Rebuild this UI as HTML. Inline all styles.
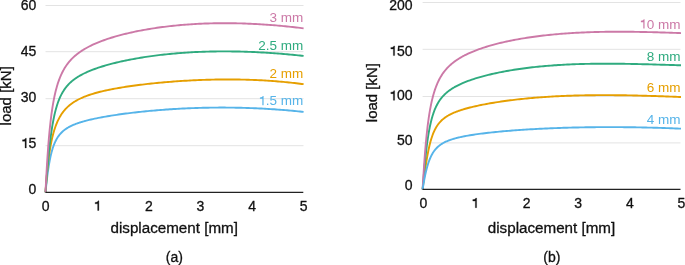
<!DOCTYPE html>
<html><head><meta charset="utf-8"><style>
html,body{margin:0;padding:0;background:#fff;}
body{width:685px;height:265px;overflow:hidden;}
svg{display:block;font-family:"Liberation Sans",sans-serif;will-change:transform;}
.one{fill-opacity:0;stroke-opacity:0;}
</style></head><body>
<svg width="685" height="265" viewBox="0 0 685 265">
<line x1="45.50" y1="5.50" x2="303.50" y2="5.50" stroke="#e3e3e3" stroke-width="1"/>
<line x1="45.50" y1="51.70" x2="303.50" y2="51.70" stroke="#e3e3e3" stroke-width="1"/>
<line x1="45.50" y1="98.70" x2="303.50" y2="98.70" stroke="#e3e3e3" stroke-width="1"/>
<line x1="45.50" y1="145.70" x2="303.50" y2="145.70" stroke="#e3e3e3" stroke-width="1"/>
<path d="M45.50,192.30 L45.67,190.67 L45.84,189.05 L46.01,187.45 L46.18,185.88 L46.35,184.33 L46.52,182.82 L46.69,181.33 L46.86,179.88 L47.03,178.47 L47.19,177.09 L47.36,175.74 L47.53,174.43 L47.70,173.16 L47.87,171.92 L48.04,170.71 L48.21,169.54 L48.38,168.40 L48.55,167.29 L48.72,166.22 L48.89,165.18 L49.06,164.16 L49.23,163.18 L49.40,162.23 L49.57,161.30 L49.74,160.41 L49.91,159.53 L50.08,158.69 L50.25,157.87 L50.42,157.07 L50.58,156.30 L50.75,155.55 L50.92,154.82 L51.09,154.11 L51.26,153.43 L51.43,152.76 L51.60,152.11 L51.77,151.48 L51.94,150.87 L52.11,150.28 L52.28,149.70 L52.45,149.14 L52.62,148.59 L52.79,148.06 L52.96,147.54 L53.13,147.04 L53.30,146.55 L53.47,146.07 L53.64,145.61 L53.81,145.15 L53.97,144.71 L54.14,144.28 L54.31,143.86 L54.48,143.46 L54.65,143.06 L54.82,142.67 L54.99,142.29 L55.16,141.92 L55.33,141.56 L55.50,141.21 L56.01,140.20 L56.52,139.26 L57.03,138.38 L57.53,137.56 L58.04,136.79 L58.55,136.06 L59.06,135.38 L59.57,134.73 L60.08,134.12 L60.58,133.55 L61.09,133.00 L61.60,132.48 L62.11,131.98 L62.62,131.51 L63.13,131.06 L63.64,130.64 L64.14,130.22 L64.65,129.83 L65.16,129.46 L65.67,129.09 L66.18,128.75 L66.69,128.41 L67.19,128.09 L67.70,127.78 L68.21,127.48 L68.72,127.19 L69.23,126.91 L69.74,126.64 L70.25,126.37 L70.75,126.12 L71.26,125.87 L71.77,125.63 L72.28,125.40 L72.79,125.17 L73.30,124.95 L73.81,124.73 L74.31,124.52 L74.82,124.32 L75.33,124.12 L75.84,123.92 L76.35,123.73 L76.86,123.55 L77.36,123.36 L77.87,123.19 L78.38,123.01 L78.89,122.84 L79.40,122.67 L79.91,122.51 L80.42,122.34 L80.92,122.18 L81.43,122.03 L81.94,121.88 L82.45,121.72 L82.96,121.58 L83.47,121.43 L83.97,121.29 L84.48,121.15 L84.99,121.01 L85.50,120.87 L87.33,120.39 L89.17,119.94 L91.00,119.51 L92.83,119.09 L94.66,118.69 L96.50,118.31 L98.33,117.94 L100.16,117.59 L101.99,117.24 L103.83,116.91 L105.66,116.59 L107.49,116.27 L109.33,115.97 L111.16,115.67 L112.99,115.38 L114.82,115.10 L116.66,114.83 L118.49,114.56 L120.32,114.30 L122.16,114.05 L123.99,113.80 L125.82,113.56 L127.65,113.33 L129.49,113.10 L131.32,112.87 L133.15,112.65 L134.98,112.44 L136.82,112.23 L138.65,112.03 L140.48,111.83 L142.32,111.64 L144.15,111.45 L145.98,111.27 L147.81,111.09 L149.65,110.92 L151.48,110.75 L153.31,110.59 L155.15,110.43 L156.98,110.27 L158.81,110.12 L160.64,109.97 L162.48,109.83 L164.31,109.69 L166.14,109.56 L167.97,109.43 L169.81,109.31 L171.64,109.19 L173.47,109.07 L175.31,108.96 L177.14,108.85 L178.97,108.75 L180.80,108.65 L182.64,108.56 L184.47,108.47 L186.30,108.38 L188.14,108.30 L189.97,108.23 L191.80,108.15 L193.63,108.08 L195.47,108.02 L197.30,107.96 L199.13,107.90 L200.96,107.85 L202.80,107.81 L204.63,107.76 L206.46,107.72 L208.30,107.69 L210.13,107.66 L211.96,107.63 L213.79,107.61 L215.63,107.59 L217.46,107.58 L219.29,107.57 L221.13,107.57 L222.96,107.57 L224.79,107.57 L226.62,107.58 L228.46,107.59 L230.29,107.61 L232.12,107.63 L233.95,107.65 L235.79,107.68 L237.62,107.72 L239.45,107.76 L241.29,107.80 L243.12,107.85 L244.95,107.90 L246.78,107.95 L248.62,108.01 L250.45,108.08 L252.28,108.15 L254.12,108.22 L255.95,108.30 L257.78,108.38 L259.61,108.47 L261.45,108.56 L263.28,108.65 L265.11,108.75 L266.94,108.86 L268.78,108.97 L270.61,109.08 L272.44,109.20 L274.28,109.32 L276.11,109.45 L277.94,109.58 L279.77,109.72 L281.61,109.86 L283.44,110.00 L285.27,110.15 L287.11,110.31 L288.94,110.47 L290.77,110.63 L292.60,110.80 L294.44,110.97 L296.27,111.15 L298.10,111.33 L299.93,111.52 L301.77,111.71 L303.60,111.90" fill="none" stroke="#56b4e9" stroke-width="1.90" stroke-linejoin="round" stroke-linecap="butt"/>
<path d="M45.50,192.30 L45.67,189.89 L45.84,187.56 L46.01,185.30 L46.18,183.12 L46.35,181.01 L46.52,178.97 L46.69,177.01 L46.86,175.11 L47.03,173.27 L47.19,171.50 L47.36,169.79 L47.53,168.13 L47.70,166.53 L47.87,164.98 L48.04,163.48 L48.21,162.03 L48.38,160.63 L48.55,159.27 L48.72,157.95 L48.89,156.67 L49.06,155.43 L49.23,154.23 L49.40,153.07 L49.57,151.94 L49.74,150.84 L49.91,149.78 L50.08,148.74 L50.25,147.74 L50.42,146.76 L50.58,145.81 L50.75,144.88 L50.92,143.98 L51.09,143.11 L51.26,142.25 L51.43,141.42 L51.60,140.61 L51.77,139.83 L51.94,139.06 L52.11,138.31 L52.28,137.58 L52.45,136.86 L52.62,136.17 L52.79,135.49 L52.96,134.83 L53.13,134.18 L53.30,133.55 L53.47,132.93 L53.64,132.32 L53.81,131.73 L53.97,131.16 L54.14,130.59 L54.31,130.04 L54.48,129.50 L54.65,128.97 L54.82,128.45 L54.99,127.95 L55.16,127.45 L55.33,126.96 L55.50,126.49 L56.01,125.11 L56.52,123.82 L57.03,122.60 L57.53,121.45 L58.04,120.35 L58.55,119.32 L59.06,118.33 L59.57,117.39 L60.08,116.50 L60.58,115.65 L61.09,114.84 L61.60,114.07 L62.11,113.33 L62.62,112.62 L63.13,111.94 L63.64,111.28 L64.14,110.66 L64.65,110.06 L65.16,109.48 L65.67,108.92 L66.18,108.38 L66.69,107.86 L67.19,107.36 L67.70,106.88 L68.21,106.41 L68.72,105.96 L69.23,105.53 L69.74,105.10 L70.25,104.69 L70.75,104.29 L71.26,103.91 L71.77,103.54 L72.28,103.17 L72.79,102.82 L73.30,102.48 L73.81,102.14 L74.31,101.82 L74.82,101.50 L75.33,101.19 L75.84,100.89 L76.35,100.60 L76.86,100.31 L77.36,100.03 L77.87,99.76 L78.38,99.49 L78.89,99.23 L79.40,98.98 L79.91,98.73 L80.42,98.49 L80.92,98.25 L81.43,98.02 L81.94,97.79 L82.45,97.57 L82.96,97.35 L83.47,97.13 L83.97,96.92 L84.48,96.72 L84.99,96.51 L85.50,96.32 L87.33,95.63 L89.17,94.98 L91.00,94.38 L92.83,93.80 L94.66,93.26 L96.50,92.74 L98.33,92.25 L100.16,91.78 L101.99,91.34 L103.83,90.91 L105.66,90.49 L107.49,90.10 L109.33,89.72 L111.16,89.35 L112.99,88.99 L114.82,88.65 L116.66,88.32 L118.49,88.00 L120.32,87.69 L122.16,87.39 L123.99,87.09 L125.82,86.81 L127.65,86.53 L129.49,86.26 L131.32,86.00 L133.15,85.75 L134.98,85.50 L136.82,85.26 L138.65,85.02 L140.48,84.79 L142.32,84.57 L144.15,84.35 L145.98,84.14 L147.81,83.93 L149.65,83.73 L151.48,83.53 L153.31,83.34 L155.15,83.16 L156.98,82.98 L158.81,82.80 L160.64,82.63 L162.48,82.46 L164.31,82.30 L166.14,82.14 L167.97,81.99 L169.81,81.84 L171.64,81.69 L173.47,81.55 L175.31,81.42 L177.14,81.29 L178.97,81.16 L180.80,81.04 L182.64,80.92 L184.47,80.81 L186.30,80.70 L188.14,80.59 L189.97,80.49 L191.80,80.40 L193.63,80.31 L195.47,80.22 L197.30,80.14 L199.13,80.06 L200.96,79.99 L202.80,79.92 L204.63,79.86 L206.46,79.80 L208.30,79.74 L210.13,79.69 L211.96,79.65 L213.79,79.61 L215.63,79.57 L217.46,79.54 L219.29,79.51 L221.13,79.49 L222.96,79.47 L224.79,79.46 L226.62,79.45 L228.46,79.45 L230.29,79.46 L232.12,79.46 L233.95,79.48 L235.79,79.49 L237.62,79.52 L239.45,79.55 L241.29,79.58 L243.12,79.62 L244.95,79.66 L246.78,79.71 L248.62,79.77 L250.45,79.83 L252.28,79.90 L254.12,79.97 L255.95,80.05 L257.78,80.13 L259.61,80.22 L261.45,80.31 L263.28,80.41 L265.11,80.52 L266.94,80.63 L268.78,80.75 L270.61,80.87 L272.44,81.00 L274.28,81.14 L276.11,81.28 L277.94,81.43 L279.77,81.58 L281.61,81.74 L283.44,81.91 L285.27,82.09 L287.11,82.26 L288.94,82.45 L290.77,82.64 L292.60,82.84 L294.44,83.05 L296.27,83.26 L298.10,83.48 L299.93,83.71 L301.77,83.94 L303.60,84.18" fill="none" stroke="#e69f00" stroke-width="1.90" stroke-linejoin="round" stroke-linecap="butt"/>
<path d="M45.50,192.30 L45.67,190.07 L45.84,187.85 L46.01,185.65 L46.18,183.46 L46.35,181.29 L46.52,179.15 L46.69,177.03 L46.86,174.95 L47.03,172.89 L47.19,170.86 L47.36,168.87 L47.53,166.91 L47.70,164.99 L47.87,163.10 L48.04,161.24 L48.21,159.43 L48.38,157.65 L48.55,155.91 L48.72,154.20 L48.89,152.53 L49.06,150.90 L49.23,149.30 L49.40,147.74 L49.57,146.22 L49.74,144.73 L49.91,143.27 L50.08,141.85 L50.25,140.46 L50.42,139.11 L50.58,137.79 L50.75,136.50 L50.92,135.24 L51.09,134.01 L51.26,132.81 L51.43,131.64 L51.60,130.50 L51.77,129.39 L51.94,128.30 L52.11,127.24 L52.28,126.21 L52.45,125.20 L52.62,124.21 L52.79,123.25 L52.96,122.31 L53.13,121.40 L53.30,120.51 L53.47,119.63 L53.64,118.78 L53.81,117.95 L53.97,117.14 L54.14,116.35 L54.31,115.57 L54.48,114.81 L54.65,114.08 L54.82,113.35 L54.99,112.65 L55.16,111.96 L55.33,111.29 L55.50,110.63 L56.01,108.74 L56.52,106.97 L57.03,105.31 L57.53,103.75 L58.04,102.29 L58.55,100.92 L59.06,99.62 L59.57,98.40 L60.08,97.24 L60.58,96.14 L61.09,95.11 L61.60,94.12 L62.11,93.19 L62.62,92.30 L63.13,91.45 L63.64,90.64 L64.14,89.86 L64.65,89.13 L65.16,88.42 L65.67,87.74 L66.18,87.09 L66.69,86.46 L67.19,85.86 L67.70,85.28 L68.21,84.72 L68.72,84.19 L69.23,83.67 L69.74,83.17 L70.25,82.68 L70.75,82.21 L71.26,81.76 L71.77,81.31 L72.28,80.89 L72.79,80.47 L73.30,80.07 L73.81,79.67 L74.31,79.29 L74.82,78.92 L75.33,78.56 L75.84,78.20 L76.35,77.86 L76.86,77.52 L77.36,77.19 L77.87,76.87 L78.38,76.56 L78.89,76.25 L79.40,75.95 L79.91,75.66 L80.42,75.37 L80.92,75.09 L81.43,74.81 L81.94,74.54 L82.45,74.27 L82.96,74.01 L83.47,73.75 L83.97,73.50 L84.48,73.25 L84.99,73.01 L85.50,72.77 L87.33,71.93 L89.17,71.14 L91.00,70.39 L92.83,69.68 L94.66,69.00 L96.50,68.34 L98.33,67.72 L100.16,67.11 L101.99,66.53 L103.83,65.98 L105.66,65.44 L107.49,64.91 L109.33,64.41 L111.16,63.92 L112.99,63.45 L114.82,62.99 L116.66,62.54 L118.49,62.11 L120.32,61.69 L122.16,61.28 L123.99,60.88 L125.82,60.49 L127.65,60.12 L129.49,59.76 L131.32,59.40 L133.15,59.06 L134.98,58.72 L136.82,58.40 L138.65,58.08 L140.48,57.77 L142.32,57.47 L144.15,57.18 L145.98,56.90 L147.81,56.63 L149.65,56.36 L151.48,56.10 L153.31,55.85 L155.15,55.61 L156.98,55.38 L158.81,55.15 L160.64,54.93 L162.48,54.72 L164.31,54.52 L166.14,54.32 L167.97,54.13 L169.81,53.94 L171.64,53.77 L173.47,53.60 L175.31,53.44 L177.14,53.28 L178.97,53.13 L180.80,52.99 L182.64,52.85 L184.47,52.72 L186.30,52.60 L188.14,52.48 L189.97,52.37 L191.80,52.26 L193.63,52.16 L195.47,52.07 L197.30,51.98 L199.13,51.90 L200.96,51.83 L202.80,51.76 L204.63,51.70 L206.46,51.64 L208.30,51.59 L210.13,51.54 L211.96,51.50 L213.79,51.47 L215.63,51.44 L217.46,51.42 L219.29,51.40 L221.13,51.39 L222.96,51.38 L224.79,51.38 L226.62,51.38 L228.46,51.39 L230.29,51.41 L232.12,51.43 L233.95,51.45 L235.79,51.48 L237.62,51.52 L239.45,51.56 L241.29,51.61 L243.12,51.66 L244.95,51.71 L246.78,51.77 L248.62,51.84 L250.45,51.91 L252.28,51.98 L254.12,52.06 L255.95,52.15 L257.78,52.24 L259.61,52.33 L261.45,52.43 L263.28,52.54 L265.11,52.64 L266.94,52.76 L268.78,52.87 L270.61,53.00 L272.44,53.12 L274.28,53.25 L276.11,53.39 L277.94,53.53 L279.77,53.67 L281.61,53.82 L283.44,53.97 L285.27,54.13 L287.11,54.29 L288.94,54.45 L290.77,54.62 L292.60,54.80 L294.44,54.97 L296.27,55.15 L298.10,55.34 L299.93,55.53 L301.77,55.72 L303.60,55.92" fill="none" stroke="#2fab7f" stroke-width="1.90" stroke-linejoin="round" stroke-linecap="butt"/>
<path d="M45.50,192.30 L45.67,188.87 L45.84,185.50 L46.01,182.21 L46.18,178.98 L46.35,175.84 L46.52,172.78 L46.69,169.81 L46.86,166.92 L47.03,164.11 L47.19,161.39 L47.36,158.75 L47.53,156.18 L47.70,153.70 L47.87,151.28 L48.04,148.95 L48.21,146.68 L48.38,144.49 L48.55,142.36 L48.72,140.29 L48.89,138.29 L49.06,136.35 L49.23,134.47 L49.40,132.64 L49.57,130.87 L49.74,129.16 L49.91,127.49 L50.08,125.87 L50.25,124.30 L50.42,122.78 L50.58,121.29 L50.75,119.86 L50.92,118.46 L51.09,117.10 L51.26,115.78 L51.43,114.49 L51.60,113.24 L51.77,112.03 L51.94,110.84 L52.11,109.69 L52.28,108.57 L52.45,107.48 L52.62,106.41 L52.79,105.38 L52.96,104.37 L53.13,103.38 L53.30,102.42 L53.47,101.48 L53.64,100.57 L53.81,99.68 L53.97,98.81 L54.14,97.96 L54.31,97.13 L54.48,96.32 L54.65,95.53 L54.82,94.75 L54.99,94.00 L55.16,93.26 L55.33,92.53 L55.50,91.83 L56.01,89.79 L56.52,87.89 L57.03,86.10 L57.53,84.41 L58.04,82.82 L58.55,81.32 L59.06,79.89 L59.57,78.55 L60.08,77.27 L60.58,76.05 L61.09,74.89 L61.60,73.79 L62.11,72.73 L62.62,71.73 L63.13,70.76 L63.64,69.84 L64.14,68.95 L64.65,68.10 L65.16,67.29 L65.67,66.50 L66.18,65.74 L66.69,65.01 L67.19,64.31 L67.70,63.63 L68.21,62.97 L68.72,62.34 L69.23,61.72 L69.74,61.12 L70.25,60.55 L70.75,59.98 L71.26,59.44 L71.77,58.91 L72.28,58.40 L72.79,57.90 L73.30,57.41 L73.81,56.93 L74.31,56.47 L74.82,56.02 L75.33,55.58 L75.84,55.15 L76.35,54.73 L76.86,54.32 L77.36,53.92 L77.87,53.53 L78.38,53.14 L78.89,52.77 L79.40,52.40 L79.91,52.04 L80.42,51.69 L80.92,51.34 L81.43,51.00 L81.94,50.67 L82.45,50.34 L82.96,50.02 L83.47,49.71 L83.97,49.40 L84.48,49.09 L84.99,48.79 L85.50,48.50 L87.33,47.48 L89.17,46.51 L91.00,45.59 L92.83,44.72 L94.66,43.89 L96.50,43.10 L98.33,42.34 L100.16,41.61 L101.99,40.91 L103.83,40.24 L105.66,39.59 L107.49,38.97 L109.33,38.36 L111.16,37.78 L112.99,37.22 L114.82,36.67 L116.66,36.15 L118.49,35.63 L120.32,35.14 L122.16,34.66 L123.99,34.19 L125.82,33.74 L127.65,33.30 L129.49,32.88 L131.32,32.46 L133.15,32.06 L134.98,31.67 L136.82,31.30 L138.65,30.93 L140.48,30.57 L142.32,30.23 L144.15,29.89 L145.98,29.57 L147.81,29.25 L149.65,28.95 L151.48,28.65 L153.31,28.36 L155.15,28.08 L156.98,27.81 L158.81,27.55 L160.64,27.30 L162.48,27.06 L164.31,26.82 L166.14,26.60 L167.97,26.38 L169.81,26.17 L171.64,25.96 L173.47,25.77 L175.31,25.58 L177.14,25.40 L178.97,25.23 L180.80,25.07 L182.64,24.91 L184.47,24.76 L186.30,24.62 L188.14,24.48 L189.97,24.35 L191.80,24.23 L193.63,24.12 L195.47,24.01 L197.30,23.91 L199.13,23.81 L200.96,23.73 L202.80,23.65 L204.63,23.57 L206.46,23.51 L208.30,23.45 L210.13,23.39 L211.96,23.34 L213.79,23.30 L215.63,23.27 L217.46,23.24 L219.29,23.22 L221.13,23.20 L222.96,23.19 L224.79,23.19 L226.62,23.19 L228.46,23.20 L230.29,23.21 L232.12,23.23 L233.95,23.26 L235.79,23.29 L237.62,23.33 L239.45,23.37 L241.29,23.42 L243.12,23.48 L244.95,23.54 L246.78,23.60 L248.62,23.68 L250.45,23.75 L252.28,23.84 L254.12,23.93 L255.95,24.02 L257.78,24.12 L259.61,24.23 L261.45,24.34 L263.28,24.45 L265.11,24.58 L266.94,24.70 L268.78,24.84 L270.61,24.97 L272.44,25.12 L274.28,25.26 L276.11,25.42 L277.94,25.58 L279.77,25.74 L281.61,25.91 L283.44,26.08 L285.27,26.26 L287.11,26.45 L288.94,26.63 L290.77,26.83 L292.60,27.03 L294.44,27.23 L296.27,27.44 L298.10,27.65 L299.93,27.87 L301.77,28.09 L303.60,28.32" fill="none" stroke="#cc79a7" stroke-width="1.90" stroke-linejoin="round" stroke-linecap="butt"/>

<line x1="45.50" y1="192.3" x2="303.30" y2="192.3" stroke="#222222" stroke-width="1.2"/>
<text x="36.40" y="9.80" font-size="14" text-anchor="end" fill="#111111" stroke="#111111" stroke-width="0.3">60</text>

<text x="36.40" y="56.00" font-size="14" text-anchor="end" fill="#111111" stroke="#111111" stroke-width="0.3">45</text>

<text x="36.40" y="102.00" font-size="14" text-anchor="end" fill="#111111" stroke="#111111" stroke-width="0.3">30</text>

<text x="36.40" y="147.90" font-size="14" text-anchor="end" fill="#111111" stroke="#111111" stroke-width="0.3"><tspan class="one">1</tspan>5</text>

<text x="36.40" y="194.00" font-size="14" text-anchor="end" fill="#111111" stroke="#111111" stroke-width="0.3">0</text>

<text x="45.70" y="210.50" font-size="14" text-anchor="middle" fill="#111111" stroke="#111111" stroke-width="0.3">0</text>

<text x="97.30" y="210.50" font-size="14" text-anchor="middle" fill="#111111" stroke="#111111" stroke-width="0.3"><tspan class="one">1</tspan></text>

<text x="148.90" y="210.50" font-size="14" text-anchor="middle" fill="#111111" stroke="#111111" stroke-width="0.3">2</text>

<text x="200.50" y="210.50" font-size="14" text-anchor="middle" fill="#111111" stroke="#111111" stroke-width="0.3">3</text>

<text x="252.10" y="210.50" font-size="14" text-anchor="middle" fill="#111111" stroke="#111111" stroke-width="0.3">4</text>

<text x="303.70" y="210.50" font-size="14" text-anchor="middle" fill="#111111" stroke="#111111" stroke-width="0.3">5</text>

<text x="174.20" y="232.90" font-size="15.2" text-anchor="middle" fill="#111111" stroke="#111111" stroke-width="0.3">displacement [mm]</text>

<text x="174.40" y="261.90" font-size="14" text-anchor="middle" fill="#111111" stroke="#111111" stroke-width="0.3">(a)</text>

<text transform="translate(11,95.8) rotate(-90)" font-size="15" text-anchor="middle" fill="#111111" stroke="#111111" stroke-width="0.3">load [kN]</text>
<text x="303.30" y="22.00" font-size="13.5" text-anchor="end" fill="#cc79a7">3 mm</text>

<text x="303.30" y="50.10" font-size="13.5" text-anchor="end" fill="#2fab7f">2.5 mm</text>

<text x="303.30" y="77.70" font-size="13.5" text-anchor="end" fill="#e69f00">2 mm</text>

<text x="303.30" y="105.30" font-size="13.5" text-anchor="end" fill="#56b4e9"><tspan class="one">1</tspan>.5 mm</text>

<line x1="422.60" y1="2.50" x2="680.50" y2="2.50" stroke="#e3e3e3" stroke-width="1"/>
<line x1="422.60" y1="49.30" x2="680.50" y2="49.30" stroke="#e3e3e3" stroke-width="1"/>
<line x1="422.60" y1="96.50" x2="680.50" y2="96.50" stroke="#e3e3e3" stroke-width="1"/>
<line x1="422.60" y1="142.90" x2="680.50" y2="142.90" stroke="#e3e3e3" stroke-width="1"/>
<path d="M422.60,189.40 L422.77,188.04 L422.94,186.69 L423.11,185.34 L423.28,184.00 L423.45,182.66 L423.62,181.33 L423.79,180.01 L423.96,178.70 L424.13,177.40 L424.29,176.12 L424.46,174.85 L424.63,173.59 L424.80,172.35 L424.97,171.13 L425.14,169.92 L425.31,168.73 L425.48,167.56 L425.65,166.40 L425.82,165.27 L425.99,164.15 L426.16,163.06 L426.33,161.98 L426.50,160.92 L426.67,159.89 L426.84,158.87 L427.01,157.88 L427.18,156.90 L427.35,155.95 L427.52,155.01 L427.68,154.10 L427.85,153.20 L428.02,152.33 L428.19,151.47 L428.36,150.64 L428.53,149.82 L428.70,149.02 L428.87,148.24 L429.04,147.47 L429.21,146.73 L429.38,146.00 L429.55,145.29 L429.72,144.60 L429.89,143.92 L430.06,143.26 L430.23,142.61 L430.40,141.98 L430.57,141.36 L430.74,140.76 L430.91,140.18 L431.07,139.60 L431.24,139.04 L431.41,138.50 L431.58,137.96 L431.75,137.44 L431.92,136.93 L432.09,136.44 L432.26,135.95 L432.43,135.48 L432.60,135.02 L433.11,133.69 L433.62,132.45 L434.13,131.30 L434.63,130.22 L435.14,129.20 L435.65,128.26 L436.16,127.36 L436.67,126.53 L437.18,125.74 L437.68,124.99 L438.19,124.29 L438.70,123.63 L439.21,123.00 L439.72,122.40 L440.23,121.83 L440.74,121.29 L441.24,120.78 L441.75,120.29 L442.26,119.82 L442.77,119.37 L443.28,118.94 L443.79,118.53 L444.29,118.14 L444.80,117.76 L445.31,117.39 L445.82,117.04 L446.33,116.70 L446.84,116.37 L447.35,116.06 L447.85,115.75 L448.36,115.46 L448.87,115.17 L449.38,114.89 L449.89,114.62 L450.40,114.36 L450.91,114.10 L451.41,113.85 L451.92,113.61 L452.43,113.38 L452.94,113.15 L453.45,112.92 L453.96,112.70 L454.46,112.49 L454.97,112.28 L455.48,112.08 L455.99,111.87 L456.50,111.68 L457.01,111.49 L457.52,111.30 L458.02,111.11 L458.53,110.93 L459.04,110.75 L459.55,110.58 L460.06,110.41 L460.57,110.24 L461.07,110.07 L461.58,109.91 L462.09,109.75 L462.60,109.59 L464.44,109.03 L466.27,108.51 L468.11,108.01 L469.94,107.53 L471.78,107.07 L473.61,106.64 L475.45,106.21 L477.28,105.81 L479.12,105.41 L480.95,105.03 L482.79,104.66 L484.62,104.31 L486.46,103.96 L488.29,103.63 L490.13,103.31 L491.96,102.99 L493.80,102.69 L495.64,102.39 L497.47,102.10 L499.31,101.82 L501.14,101.55 L502.98,101.29 L504.81,101.03 L506.65,100.78 L508.48,100.54 L510.32,100.30 L512.15,100.08 L513.99,99.85 L515.82,99.64 L517.66,99.43 L519.49,99.23 L521.33,99.03 L523.16,98.84 L525.00,98.65 L526.84,98.48 L528.67,98.30 L530.51,98.13 L532.34,97.97 L534.18,97.81 L536.01,97.66 L537.85,97.52 L539.68,97.37 L541.52,97.24 L543.35,97.11 L545.19,96.98 L547.02,96.86 L548.86,96.74 L550.69,96.63 L552.53,96.52 L554.36,96.42 L556.20,96.32 L558.04,96.23 L559.87,96.14 L561.71,96.05 L563.54,95.97 L565.38,95.89 L567.21,95.82 L569.05,95.75 L570.88,95.69 L572.72,95.62 L574.55,95.57 L576.39,95.51 L578.22,95.46 L580.06,95.42 L581.89,95.38 L583.73,95.34 L585.56,95.30 L587.40,95.27 L589.24,95.24 L591.07,95.22 L592.91,95.20 L594.74,95.18 L596.58,95.16 L598.41,95.15 L600.25,95.14 L602.08,95.14 L603.92,95.14 L605.75,95.14 L607.59,95.14 L609.42,95.14 L611.26,95.15 L613.09,95.17 L614.93,95.18 L616.76,95.20 L618.60,95.22 L620.44,95.24 L622.27,95.26 L624.11,95.29 L625.94,95.32 L627.78,95.35 L629.61,95.38 L631.45,95.42 L633.28,95.46 L635.12,95.50 L636.95,95.54 L638.79,95.58 L640.62,95.63 L642.46,95.68 L644.29,95.73 L646.13,95.78 L647.96,95.83 L649.80,95.89 L651.64,95.94 L653.47,96.00 L655.31,96.06 L657.14,96.12 L658.98,96.18 L660.81,96.25 L662.65,96.31 L664.48,96.38 L666.32,96.45 L668.15,96.52 L669.99,96.59 L671.82,96.66 L673.66,96.73 L675.49,96.80 L677.33,96.88 L679.16,96.95 L681.00,97.03" fill="none" stroke="#e69f00" stroke-width="1.90" stroke-linejoin="round" stroke-linecap="butt"/>
<path d="M422.60,189.40 L422.77,187.30 L422.94,185.22 L423.11,183.14 L423.28,181.09 L423.45,179.06 L423.62,177.06 L423.79,175.08 L423.96,173.14 L424.13,171.22 L424.29,169.34 L424.46,167.49 L424.63,165.68 L424.80,163.91 L424.97,162.17 L425.14,160.47 L425.31,158.81 L425.48,157.18 L425.65,155.59 L425.82,154.04 L425.99,152.53 L426.16,151.05 L426.33,149.61 L426.50,148.20 L426.67,146.83 L426.84,145.50 L427.01,144.20 L427.18,142.93 L427.35,141.70 L427.52,140.49 L427.68,139.32 L427.85,138.18 L428.02,137.07 L428.19,135.99 L428.36,134.93 L428.53,133.91 L428.70,132.91 L428.87,131.93 L429.04,130.99 L429.21,130.06 L429.38,129.16 L429.55,128.29 L429.72,127.43 L429.89,126.60 L430.06,125.79 L430.23,125.00 L430.40,124.23 L430.57,123.48 L430.74,122.75 L430.91,122.04 L431.07,121.34 L431.24,120.66 L431.41,120.00 L431.58,119.35 L431.75,118.72 L431.92,118.10 L432.09,117.50 L432.26,116.92 L432.43,116.34 L432.60,115.78 L433.11,114.18 L433.62,112.68 L434.13,111.28 L434.63,109.96 L435.14,108.73 L435.65,107.57 L436.16,106.47 L436.67,105.44 L437.18,104.47 L437.68,103.54 L438.19,102.67 L438.70,101.83 L439.21,101.04 L439.72,100.29 L440.23,99.57 L440.74,98.88 L441.24,98.22 L441.75,97.60 L442.26,96.99 L442.77,96.41 L443.28,95.85 L443.79,95.32 L444.29,94.80 L444.80,94.30 L445.31,93.82 L445.82,93.36 L446.33,92.91 L446.84,92.47 L447.35,92.05 L447.85,91.64 L448.36,91.24 L448.87,90.86 L449.38,90.48 L449.89,90.11 L450.40,89.76 L450.91,89.41 L451.41,89.07 L451.92,88.74 L452.43,88.42 L452.94,88.11 L453.45,87.80 L453.96,87.50 L454.46,87.20 L454.97,86.91 L455.48,86.63 L455.99,86.35 L456.50,86.08 L457.01,85.82 L457.52,85.56 L458.02,85.30 L458.53,85.05 L459.04,84.80 L459.55,84.56 L460.06,84.32 L460.57,84.08 L461.07,83.85 L461.58,83.62 L462.09,83.40 L462.60,83.18 L464.44,82.41 L466.27,81.68 L468.11,80.98 L469.94,80.31 L471.78,79.67 L473.61,79.06 L475.45,78.47 L477.28,77.91 L479.12,77.36 L480.95,76.84 L482.79,76.33 L484.62,75.84 L486.46,75.36 L488.29,74.90 L490.13,74.46 L491.96,74.03 L493.80,73.61 L495.64,73.21 L497.47,72.82 L499.31,72.44 L501.14,72.07 L502.98,71.71 L504.81,71.37 L506.65,71.03 L508.48,70.71 L510.32,70.39 L512.15,70.09 L513.99,69.79 L515.82,69.50 L517.66,69.23 L519.49,68.96 L521.33,68.70 L523.16,68.44 L525.00,68.20 L526.84,67.97 L528.67,67.74 L530.51,67.52 L532.34,67.31 L534.18,67.10 L536.01,66.91 L537.85,66.72 L539.68,66.53 L541.52,66.36 L543.35,66.19 L545.19,66.03 L547.02,65.87 L548.86,65.72 L550.69,65.58 L552.53,65.44 L554.36,65.31 L556.20,65.18 L558.04,65.06 L559.87,64.95 L561.71,64.84 L563.54,64.74 L565.38,64.64 L567.21,64.55 L569.05,64.47 L570.88,64.39 L572.72,64.31 L574.55,64.24 L576.39,64.17 L578.22,64.11 L580.06,64.05 L581.89,64.00 L583.73,63.95 L585.56,63.91 L587.40,63.87 L589.24,63.83 L591.07,63.80 L592.91,63.77 L594.74,63.75 L596.58,63.73 L598.41,63.72 L600.25,63.70 L602.08,63.69 L603.92,63.69 L605.75,63.68 L607.59,63.69 L609.42,63.69 L611.26,63.70 L613.09,63.71 L614.93,63.72 L616.76,63.73 L618.60,63.75 L620.44,63.77 L622.27,63.79 L624.11,63.82 L625.94,63.85 L627.78,63.88 L629.61,63.91 L631.45,63.94 L633.28,63.98 L635.12,64.02 L636.95,64.06 L638.79,64.10 L640.62,64.14 L642.46,64.18 L644.29,64.23 L646.13,64.28 L647.96,64.32 L649.80,64.37 L651.64,64.42 L653.47,64.47 L655.31,64.53 L657.14,64.58 L658.98,64.63 L660.81,64.69 L662.65,64.74 L664.48,64.79 L666.32,64.85 L668.15,64.91 L669.99,64.96 L671.82,65.02 L673.66,65.07 L675.49,65.13 L677.33,65.18 L679.16,65.24 L681.00,65.29" fill="none" stroke="#2fab7f" stroke-width="1.90" stroke-linejoin="round" stroke-linecap="butt"/>
<path d="M422.60,189.40 L422.77,186.48 L422.94,183.60 L423.11,180.77 L423.28,177.98 L423.45,175.25 L423.62,172.58 L423.79,169.97 L423.96,167.42 L424.13,164.93 L424.29,162.50 L424.46,160.14 L424.63,157.84 L424.80,155.60 L424.97,153.42 L425.14,151.30 L425.31,149.23 L425.48,147.23 L425.65,145.28 L425.82,143.38 L425.99,141.54 L426.16,139.75 L426.33,138.00 L426.50,136.31 L426.67,134.67 L426.84,133.07 L427.01,131.51 L427.18,130.00 L427.35,128.53 L427.52,127.10 L427.68,125.71 L427.85,124.36 L428.02,123.04 L428.19,121.76 L428.36,120.51 L428.53,119.30 L428.70,118.12 L428.87,116.97 L429.04,115.85 L429.21,114.76 L429.38,113.69 L429.55,112.66 L429.72,111.65 L429.89,110.66 L430.06,109.70 L430.23,108.77 L430.40,107.85 L430.57,106.96 L430.74,106.09 L430.91,105.24 L431.07,104.41 L431.24,103.60 L431.41,102.81 L431.58,102.04 L431.75,101.28 L431.92,100.54 L432.09,99.82 L432.26,99.12 L432.43,98.43 L432.60,97.75 L433.11,95.81 L433.62,93.99 L434.13,92.28 L434.63,90.67 L435.14,89.15 L435.65,87.72 L436.16,86.36 L436.67,85.07 L437.18,83.85 L437.68,82.69 L438.19,81.59 L438.70,80.53 L439.21,79.53 L439.72,78.57 L440.23,77.65 L440.74,76.77 L441.24,75.93 L441.75,75.12 L442.26,74.34 L442.77,73.59 L443.28,72.87 L443.79,72.18 L444.29,71.51 L444.80,70.86 L445.31,70.24 L445.82,69.63 L446.33,69.05 L446.84,68.48 L447.35,67.93 L447.85,67.40 L448.36,66.88 L448.87,66.37 L449.38,65.88 L449.89,65.41 L450.40,64.94 L450.91,64.49 L451.41,64.05 L451.92,63.62 L452.43,63.20 L452.94,62.80 L453.45,62.40 L453.96,62.01 L454.46,61.62 L454.97,61.25 L455.48,60.89 L455.99,60.53 L456.50,60.18 L457.01,59.83 L457.52,59.50 L458.02,59.17 L458.53,58.84 L459.04,58.53 L459.55,58.21 L460.06,57.91 L460.57,57.61 L461.07,57.31 L461.58,57.02 L462.09,56.73 L462.60,56.45 L464.44,55.47 L466.27,54.55 L468.11,53.67 L469.94,52.84 L471.78,52.04 L473.61,51.28 L475.45,50.55 L477.28,49.86 L479.12,49.19 L480.95,48.54 L482.79,47.92 L484.62,47.32 L486.46,46.74 L488.29,46.19 L490.13,45.65 L491.96,45.13 L493.80,44.62 L495.64,44.13 L497.47,43.66 L499.31,43.20 L501.14,42.76 L502.98,42.33 L504.81,41.91 L506.65,41.51 L508.48,41.11 L510.32,40.73 L512.15,40.36 L513.99,40.00 L515.82,39.66 L517.66,39.32 L519.49,38.99 L521.33,38.67 L523.16,38.36 L525.00,38.07 L526.84,37.78 L528.67,37.50 L530.51,37.22 L532.34,36.96 L534.18,36.70 L536.01,36.46 L537.85,36.22 L539.68,35.99 L541.52,35.76 L543.35,35.55 L545.19,35.34 L547.02,35.14 L548.86,34.94 L550.69,34.76 L552.53,34.58 L554.36,34.40 L556.20,34.24 L558.04,34.08 L559.87,33.92 L561.71,33.77 L563.54,33.63 L565.38,33.49 L567.21,33.36 L569.05,33.24 L570.88,33.12 L572.72,33.01 L574.55,32.90 L576.39,32.80 L578.22,32.70 L580.06,32.61 L581.89,32.52 L583.73,32.44 L585.56,32.37 L587.40,32.29 L589.24,32.23 L591.07,32.16 L592.91,32.11 L594.74,32.05 L596.58,32.00 L598.41,31.96 L600.25,31.92 L602.08,31.88 L603.92,31.85 L605.75,31.82 L607.59,31.80 L609.42,31.78 L611.26,31.76 L613.09,31.75 L614.93,31.74 L616.76,31.73 L618.60,31.73 L620.44,31.73 L622.27,31.73 L624.11,31.74 L625.94,31.75 L627.78,31.76 L629.61,31.78 L631.45,31.80 L633.28,31.82 L635.12,31.85 L636.95,31.87 L638.79,31.90 L640.62,31.93 L642.46,31.97 L644.29,32.01 L646.13,32.04 L647.96,32.09 L649.80,32.13 L651.64,32.17 L653.47,32.22 L655.31,32.27 L657.14,32.32 L658.98,32.37 L660.81,32.43 L662.65,32.48 L664.48,32.54 L666.32,32.60 L668.15,32.66 L669.99,32.72 L671.82,32.78 L673.66,32.85 L675.49,32.91 L677.33,32.98 L679.16,33.05 L681.00,33.11" fill="none" stroke="#cc79a7" stroke-width="1.90" stroke-linejoin="round" stroke-linecap="butt"/>
<path d="M422.60,189.40 L422.77,188.38 L422.94,187.37 L423.11,186.36 L423.28,185.37 L423.45,184.38 L423.62,183.42 L423.79,182.46 L423.96,181.52 L424.13,180.60 L424.29,179.69 L424.46,178.80 L424.63,177.93 L424.80,177.07 L424.97,176.24 L425.14,175.42 L425.31,174.61 L425.48,173.83 L425.65,173.06 L425.82,172.31 L425.99,171.58 L426.16,170.86 L426.33,170.17 L426.50,169.48 L426.67,168.82 L426.84,168.17 L427.01,167.53 L427.18,166.92 L427.35,166.31 L427.52,165.72 L427.68,165.15 L427.85,164.59 L428.02,164.04 L428.19,163.51 L428.36,162.99 L428.53,162.49 L428.70,161.99 L428.87,161.51 L429.04,161.04 L429.21,160.58 L429.38,160.13 L429.55,159.69 L429.72,159.27 L429.89,158.85 L430.06,158.45 L430.23,158.05 L430.40,157.66 L430.57,157.28 L430.74,156.91 L430.91,156.55 L431.07,156.20 L431.24,155.86 L431.41,155.52 L431.58,155.19 L431.75,154.87 L431.92,154.56 L432.09,154.25 L432.26,153.95 L432.43,153.66 L432.60,153.37 L433.11,152.55 L433.62,151.78 L434.13,151.05 L434.63,150.37 L435.14,149.73 L435.65,149.13 L436.16,148.56 L436.67,148.02 L437.18,147.51 L437.68,147.03 L438.19,146.57 L438.70,146.13 L439.21,145.72 L439.72,145.32 L440.23,144.95 L440.74,144.59 L441.24,144.24 L441.75,143.91 L442.26,143.60 L442.77,143.30 L443.28,143.01 L443.79,142.73 L444.29,142.46 L444.80,142.20 L445.31,141.95 L445.82,141.71 L446.33,141.48 L446.84,141.26 L447.35,141.04 L447.85,140.83 L448.36,140.63 L448.87,140.43 L449.38,140.24 L449.89,140.05 L450.40,139.87 L450.91,139.70 L451.41,139.53 L451.92,139.36 L452.43,139.20 L452.94,139.04 L453.45,138.89 L453.96,138.74 L454.46,138.59 L454.97,138.45 L455.48,138.31 L455.99,138.17 L456.50,138.04 L457.01,137.91 L457.52,137.78 L458.02,137.66 L458.53,137.54 L459.04,137.42 L459.55,137.30 L460.06,137.18 L460.57,137.07 L461.07,136.96 L461.58,136.85 L462.09,136.74 L462.60,136.63 L464.44,136.27 L466.27,135.92 L468.11,135.59 L469.94,135.28 L471.78,134.98 L473.61,134.70 L475.45,134.43 L477.28,134.17 L479.12,133.92 L480.95,133.67 L482.79,133.44 L484.62,133.22 L486.46,133.00 L488.29,132.79 L490.13,132.58 L491.96,132.39 L493.80,132.20 L495.64,132.01 L497.47,131.83 L499.31,131.65 L501.14,131.48 L502.98,131.32 L504.81,131.16 L506.65,131.00 L508.48,130.85 L510.32,130.70 L512.15,130.55 L513.99,130.41 L515.82,130.27 L517.66,130.14 L519.49,130.01 L521.33,129.89 L523.16,129.76 L525.00,129.64 L526.84,129.53 L528.67,129.41 L530.51,129.30 L532.34,129.20 L534.18,129.09 L536.01,128.99 L537.85,128.90 L539.68,128.80 L541.52,128.71 L543.35,128.62 L545.19,128.53 L547.02,128.45 L548.86,128.37 L550.69,128.29 L552.53,128.22 L554.36,128.15 L556.20,128.08 L558.04,128.01 L559.87,127.94 L561.71,127.88 L563.54,127.82 L565.38,127.77 L567.21,127.71 L569.05,127.66 L570.88,127.61 L572.72,127.56 L574.55,127.52 L576.39,127.48 L578.22,127.44 L580.06,127.40 L581.89,127.37 L583.73,127.33 L585.56,127.30 L587.40,127.28 L589.24,127.25 L591.07,127.23 L592.91,127.21 L594.74,127.19 L596.58,127.17 L598.41,127.16 L600.25,127.14 L602.08,127.13 L603.92,127.13 L605.75,127.12 L607.59,127.12 L609.42,127.12 L611.26,127.12 L613.09,127.12 L614.93,127.13 L616.76,127.13 L618.60,127.14 L620.44,127.16 L622.27,127.17 L624.11,127.19 L625.94,127.20 L627.78,127.22 L629.61,127.25 L631.45,127.27 L633.28,127.30 L635.12,127.32 L636.95,127.35 L638.79,127.39 L640.62,127.42 L642.46,127.46 L644.29,127.49 L646.13,127.53 L647.96,127.58 L649.80,127.62 L651.64,127.67 L653.47,127.71 L655.31,127.76 L657.14,127.81 L658.98,127.87 L660.81,127.92 L662.65,127.98 L664.48,128.04 L666.32,128.10 L668.15,128.16 L669.99,128.23 L671.82,128.29 L673.66,128.36 L675.49,128.43 L677.33,128.50 L679.16,128.58 L681.00,128.65" fill="none" stroke="#56b4e9" stroke-width="1.90" stroke-linejoin="round" stroke-linecap="butt"/>

<line x1="422.60" y1="189.4" x2="680.50" y2="189.4" stroke="#222222" stroke-width="1.2"/>
<text x="412.50" y="9.70" font-size="14" text-anchor="end" fill="#111111" stroke="#111111" stroke-width="0.3">200</text>

<text x="412.50" y="55.60" font-size="14" text-anchor="end" fill="#111111" stroke="#111111" stroke-width="0.3"><tspan class="one">1</tspan>50</text>

<text x="412.50" y="100.30" font-size="14" text-anchor="end" fill="#111111" stroke="#111111" stroke-width="0.3"><tspan class="one">1</tspan>00</text>

<text x="412.50" y="145.30" font-size="14" text-anchor="end" fill="#111111" stroke="#111111" stroke-width="0.3">50</text>

<text x="412.50" y="190.30" font-size="14" text-anchor="end" fill="#111111" stroke="#111111" stroke-width="0.3">0</text>

<text x="423.40" y="207.70" font-size="14" text-anchor="middle" fill="#111111" stroke="#111111" stroke-width="0.3">0</text>

<text x="475.00" y="207.70" font-size="14" text-anchor="middle" fill="#111111" stroke="#111111" stroke-width="0.3"><tspan class="one">1</tspan></text>

<text x="526.60" y="207.70" font-size="14" text-anchor="middle" fill="#111111" stroke="#111111" stroke-width="0.3">2</text>

<text x="578.20" y="207.70" font-size="14" text-anchor="middle" fill="#111111" stroke="#111111" stroke-width="0.3">3</text>

<text x="629.80" y="207.70" font-size="14" text-anchor="middle" fill="#111111" stroke="#111111" stroke-width="0.3">4</text>

<text x="681.40" y="207.70" font-size="14" text-anchor="middle" fill="#111111" stroke="#111111" stroke-width="0.3">5</text>

<text x="551.50" y="232.90" font-size="15.2" text-anchor="middle" fill="#111111" stroke="#111111" stroke-width="0.3">displacement [mm]</text>

<text x="551.80" y="261.90" font-size="14" text-anchor="middle" fill="#111111" stroke="#111111" stroke-width="0.3">(b)</text>

<text transform="translate(377.2,92.6) rotate(-90)" font-size="15" text-anchor="middle" fill="#111111" stroke="#111111" stroke-width="0.3">load [kN]</text>
<text x="680.50" y="28.60" font-size="13.5" text-anchor="end" fill="#cc79a7"><tspan class="one">1</tspan>0 mm</text>

<text x="680.50" y="60.90" font-size="13.5" text-anchor="end" fill="#2fab7f">8 mm</text>

<text x="680.50" y="92.20" font-size="13.5" text-anchor="end" fill="#e69f00">6 mm</text>

<text x="680.50" y="124.30" font-size="13.5" text-anchor="end" fill="#56b4e9">4 mm</text>

<path transform="translate(20.806,147.900) scale(0.006836,-0.006836)" d="M620 0H805V1409H680C660 1270 550 1195 250 1185V975H620Z" fill="#111111" stroke="#111111" stroke-width="43.9"/>
<path transform="translate(93.402,210.500) scale(0.006836,-0.006836)" d="M620 0H805V1409H680C660 1270 550 1195 250 1185V975H620Z" fill="#111111" stroke="#111111" stroke-width="43.9"/>
<path transform="translate(258.269,105.300) scale(0.006592,-0.006592)" d="M620 0H805V1409H680C660 1270 550 1195 250 1185V975H620Z" fill="#56b4e9"/>
<path transform="translate(389.125,55.600) scale(0.006836,-0.006836)" d="M620 0H805V1409H680C660 1270 550 1195 250 1185V975H620Z" fill="#111111" stroke="#111111" stroke-width="43.9"/>
<path transform="translate(389.125,100.300) scale(0.006836,-0.006836)" d="M620 0H805V1409H680C660 1270 550 1195 250 1185V975H620Z" fill="#111111" stroke="#111111" stroke-width="43.9"/>
<path transform="translate(471.102,207.700) scale(0.006836,-0.006836)" d="M620 0H805V1409H680C660 1270 550 1195 250 1185V975H620Z" fill="#111111" stroke="#111111" stroke-width="43.9"/>
<path transform="translate(639.234,28.600) scale(0.006592,-0.006592)" d="M620 0H805V1409H680C660 1270 550 1195 250 1185V975H620Z" fill="#cc79a7"/>
</svg>
</body></html>
